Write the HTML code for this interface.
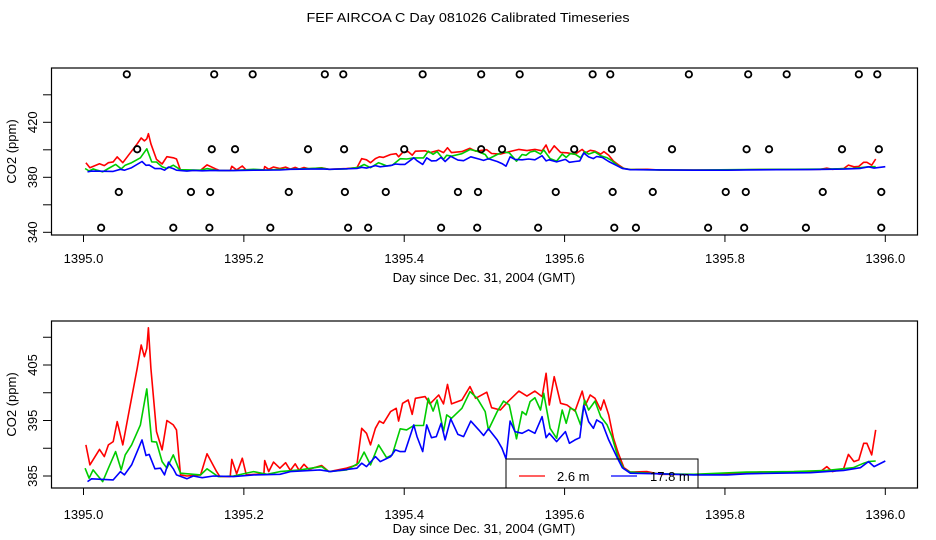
<!DOCTYPE html>
<html><head><meta charset="utf-8"><style>
body{margin:0;background:#fff}
svg{display:block;font-family:"Liberation Sans",sans-serif}
</style></head><body>
<svg id="chart" width="936" height="540" viewBox="0 0 936 540">
<text x="468" y="22" text-anchor="middle" font-size="12.5" textLength="323" lengthAdjust="spacingAndGlyphs">FEF AIRCOA C  Day 081026  Calibrated Timeseries</text>
<g id="top"></g>
<g id="bot"></g>
</svg>
<script>
// day offsets from 1395.0
const redX=[0.003,0.008,0.020,0.026,0.031,0.037,0.042,0.049,0.056,0.067,0.072,0.076,0.079,0.081,0.084,0.091,0.098,0.104,0.112,0.116,0.121,0.129,0.146,0.154,0.166,0.170,0.183,0.185,0.191,0.198,0.203,0.225,0.226,0.231,0.237,0.245,0.252,0.258,0.264,0.269,0.275,0.281,0.297,0.306,0.328,0.341,0.347,0.353,0.358,0.364,0.369,0.374,0.383,0.390,0.393,0.398,0.405,0.410,0.414,0.426,0.432,0.443,0.449,0.454,0.459,0.472,0.482,0.489,0.503,0.509,0.520,0.530,0.543,0.553,0.563,0.572,0.577,0.581,0.587,0.595,0.603,0.613,0.622,0.626,0.632,0.638,0.645,0.649,0.655,0.661,0.667,0.674,0.682,0.703,0.719,0.761,0.803,0.844,0.907,0.919,0.927,0.934,0.948,0.954,0.961,0.967,0.973,0.977,0.983,0.988];
const redY=[390.6,387,389.8,388.5,390.6,391.2,394.8,390.6,396,404.4,408.6,406.5,408,411.7,404.4,393,389.7,395,394.2,393.3,385.2,385,385.2,389,385.8,384.9,384.9,388,385.4,388.2,385.2,385.4,387.8,385.8,387.5,386.4,387.4,386,387.2,386,387.1,386.2,386.9,385.8,386.4,387,393.6,392.7,390.6,393.6,394.9,394.5,396.6,397.2,394.9,398.1,398.7,396.1,399,399.3,398,399.6,398,401.5,398,398.7,401.1,399,400.1,397.3,396.9,398.5,400.3,399.4,400.3,399.3,403.5,397.8,402.9,398.1,397.8,396.7,400.3,397.8,399.6,399,396.9,398.7,396,391.8,389.1,386.5,385.7,385.8,385.3,385.3,385.3,385.7,385.8,385.8,386.7,385.8,386.3,388.9,387.6,387.9,390.9,390.9,388.8,393.3];
const greenX=[0.002,0.007,0.012,0.017,0.024,0.031,0.040,0.047,0.052,0.060,0.071,0.079,0.085,0.091,0.098,0.104,0.112,0.121,0.146,0.154,0.168,0.187,0.212,0.229,0.245,0.270,0.297,0.306,0.328,0.343,0.350,0.358,0.368,0.378,0.385,0.395,0.403,0.412,0.424,0.430,0.436,0.441,0.449,0.453,0.459,0.472,0.482,0.491,0.501,0.505,0.516,0.524,0.531,0.540,0.547,0.552,0.557,0.563,0.570,0.574,0.582,0.590,0.597,0.602,0.607,0.613,0.620,0.625,0.630,0.638,0.645,0.653,0.659,0.667,0.674,0.682,0.719,0.761,0.827,0.886,0.927,0.960,0.973,0.979,0.988];
const greenY=[386.4,384.6,386.1,385.2,384,386.4,389.4,386.1,388.8,390.6,394.2,400.7,391.2,391.1,387.6,386.4,388.8,385.5,385.2,386.3,384.9,385,385.8,385.3,385.8,386.1,386.7,385.8,386.1,387.3,389.3,387,390.6,388.3,388.8,393.5,393.3,394.1,394.1,399,396.7,398.7,393,396,395.4,397.2,400.2,399,396.6,393.3,396.6,398.5,397.8,391.7,396.6,396,398.4,399.1,396.9,399.9,393.6,391.8,396.9,394.5,397.2,396.9,394.2,398.7,396.9,398.5,395.7,394.2,392.1,388.2,386.3,385.7,385.4,385.3,385.7,385.8,386,386.5,387.3,387.6,387.7];
const blueX=[0.005,0.010,0.037,0.046,0.051,0.060,0.073,0.078,0.082,0.089,0.096,0.101,0.106,0.112,0.116,0.129,0.137,0.148,0.162,0.187,0.212,0.245,0.258,0.295,0.308,0.341,0.347,0.353,0.364,0.370,0.383,0.389,0.395,0.401,0.412,0.416,0.423,0.428,0.434,0.440,0.446,0.451,0.458,0.467,0.474,0.483,0.493,0.499,0.505,0.516,0.522,0.527,0.532,0.538,0.547,0.555,0.563,0.572,0.577,0.581,0.590,0.601,0.606,0.613,0.619,0.624,0.630,0.636,0.640,0.647,0.655,0.665,0.672,0.682,0.719,0.761,0.803,0.827,0.865,0.907,0.927,0.948,0.969,0.979,0.986,1.000];
const blueY=[384,384.5,384.3,385.8,385.2,387,391.5,388.7,388.9,386.3,386.4,385.2,387.5,386.3,385.2,384.5,385,384.7,385,384.9,385.2,385.3,385.8,386.1,385.8,386.4,387.3,386.7,388.5,387.6,388.5,389.7,389.4,389.4,394.2,392.1,389.4,394.2,391.9,392.1,394.5,391.5,395.3,392.5,392.1,394.9,393.3,392.3,393.5,391.5,390,388.1,394.9,393,392.7,393.3,392.7,395.7,391.9,392.7,391.2,393,390.9,391.5,391.9,397.7,394.8,393.6,395.1,394.5,391.5,388.5,386.5,385.5,385.4,385.2,385.2,385.4,385.5,385.6,385.8,386,386.5,387.6,386.7,387.7];
// flag circles (top panel): four levels
const circLevels=[454.9,400.4,369.3,343.3];
const circX0=[0.054,0.163,0.211,0.301,0.324,0.423,0.496,0.544,0.635,0.657,0.755,0.829,0.877,0.967,0.990];
const circX1=[0.067,0.160,0.189,0.280,0.325,0.400,0.496,0.522,0.612,0.659,0.734,0.827,0.855,0.946,0.992];
const circX2=[0.044,0.134,0.158,0.256,0.326,0.377,0.467,0.492,0.589,0.660,0.710,0.801,0.826,0.922,0.995];
const circX3=[0.022,0.112,0.157,0.233,0.330,0.355,0.446,0.491,0.567,0.662,0.689,0.779,0.824,0.901,0.995];
const xTicks=[0,0.2,0.4,0.6,0.8,1.0];
const xTickLabels=["1395.0","1395.2","1395.4","1395.6","1395.8","1396.0"];
const topYTicks=[340,360,380,400,420,440];
const topYLabels=["340","","380","","420",""];
const botYTicks=[385,390,395,400,405,410];
const botYLabels=["385","","395","","405",""];

const NS="http://www.w3.org/2000/svg";
function mk(parent,tag,attrs){const e=document.createElementNS(NS,tag);for(const k in attrs)e.setAttribute(k,attrs[k]);parent.appendChild(e);return e;}
const xs=d=>83.5+d*801.8;

function panel(g,box,ys,yTicks,yLabels,tickY0,labelY,titleY){
  const r=mk(g,'rect',{x:box[0],y:box[1],width:box[2]-box[0],height:box[3]-box[1],fill:'none',stroke:'#000','stroke-width':1.2});
  
  
  xTicks.forEach((t,i)=>{
    const l=mk(g,'line',{x1:xs(t),x2:xs(t),y1:box[3],y2:box[3]+7,stroke:'#000'});
    
    
    const tx=mk(g,'text',{x:xs(t),y:labelY,'text-anchor':'middle','font-size':13});
    tx.textContent=xTickLabels[i];
    
    
  });
  const xt=mk(g,'text',{x:484,y:titleY,'text-anchor':'middle','font-size':13});
  xt.textContent='Day since Dec. 31, 2004 (GMT)';
  
  
  yTicks.forEach((t,i)=>{
    const y=ys(t);
    const l=mk(g,'line',{x1:43,x2:box[0],y1:y,y2:y,stroke:'#000'});
    
    
    if(yLabels[i]){
      const tx=mk(g,'text',{x:0,y:0,'text-anchor':'middle','font-size':13,transform:`translate(37,${y}) rotate(-90)`});
      tx.textContent=yLabels[i];
      
      
    }
  });
  const yt=mk(g,'text',{x:0,y:0,'text-anchor':'middle','font-size':13,transform:`translate(16,${(box[1]+box[3])/2}) rotate(-90)`});
  yt.textContent='CO2 (ppm)';
  
  
  [[greenX,greenY,'#00cc00','green-series'],[redX,redY,'#ff0000','red-series'],[greenX,greenY,'#00cc00','green-series'],[blueX,blueY,'#0000ff','blue-series']].slice(1).forEach(s=>{
    const pts=s[0].map((x,i)=>xs(x).toFixed(1)+','+ys(s[1][i]).toFixed(1)).join(' ');
    const p=mk(g,'polyline',{points:pts,fill:'none',stroke:s[2],'stroke-width':1.6,'stroke-linejoin':'round'});
    
    
  });
}
const topY=v=>232.3-(v-340)*1.375;
const botY=v=>476-(v-385)*5.55;
const gt=document.getElementById('top'), gb=document.getElementById('bot');
panel(gt,[51.5,68,917.5,235],topY,topYTicks,topYLabels,235,263,282);
[circX0,circX1,circX2,circX3].forEach((arr,li)=>{
  arr.forEach(x=>{
    const c=mk(gt,'circle',{cx:xs(x),cy:topY(circLevels[li]),r:3.2,fill:'none',stroke:'#000','stroke-width':1.8});
    
    
  });
});
panel(gb,[51.5,321,917.5,488],botY,botYTicks,botYLabels,488,519,533);
// legend
const lg=mk(gb,'g',{});


const lb=mk(lg,'rect',{x:506,y:459,width:192,height:29,fill:'none',stroke:'#000','stroke-width':1});


const l1=mk(lg,'line',{x1:519,x2:545,y1:476,y2:476,stroke:'#ff0000','stroke-width':1.3});


const t1=mk(lg,'text',{x:557,y:481,'font-size':13});t1.textContent='2.6 m';


const l2=mk(lg,'line',{x1:611,x2:637,y1:476,y2:476,stroke:'#0000ff','stroke-width':1.3});


const t2=mk(lg,'text',{x:650,y:481,'font-size':13});t2.textContent='17.8 m';


</script>
</body></html>
